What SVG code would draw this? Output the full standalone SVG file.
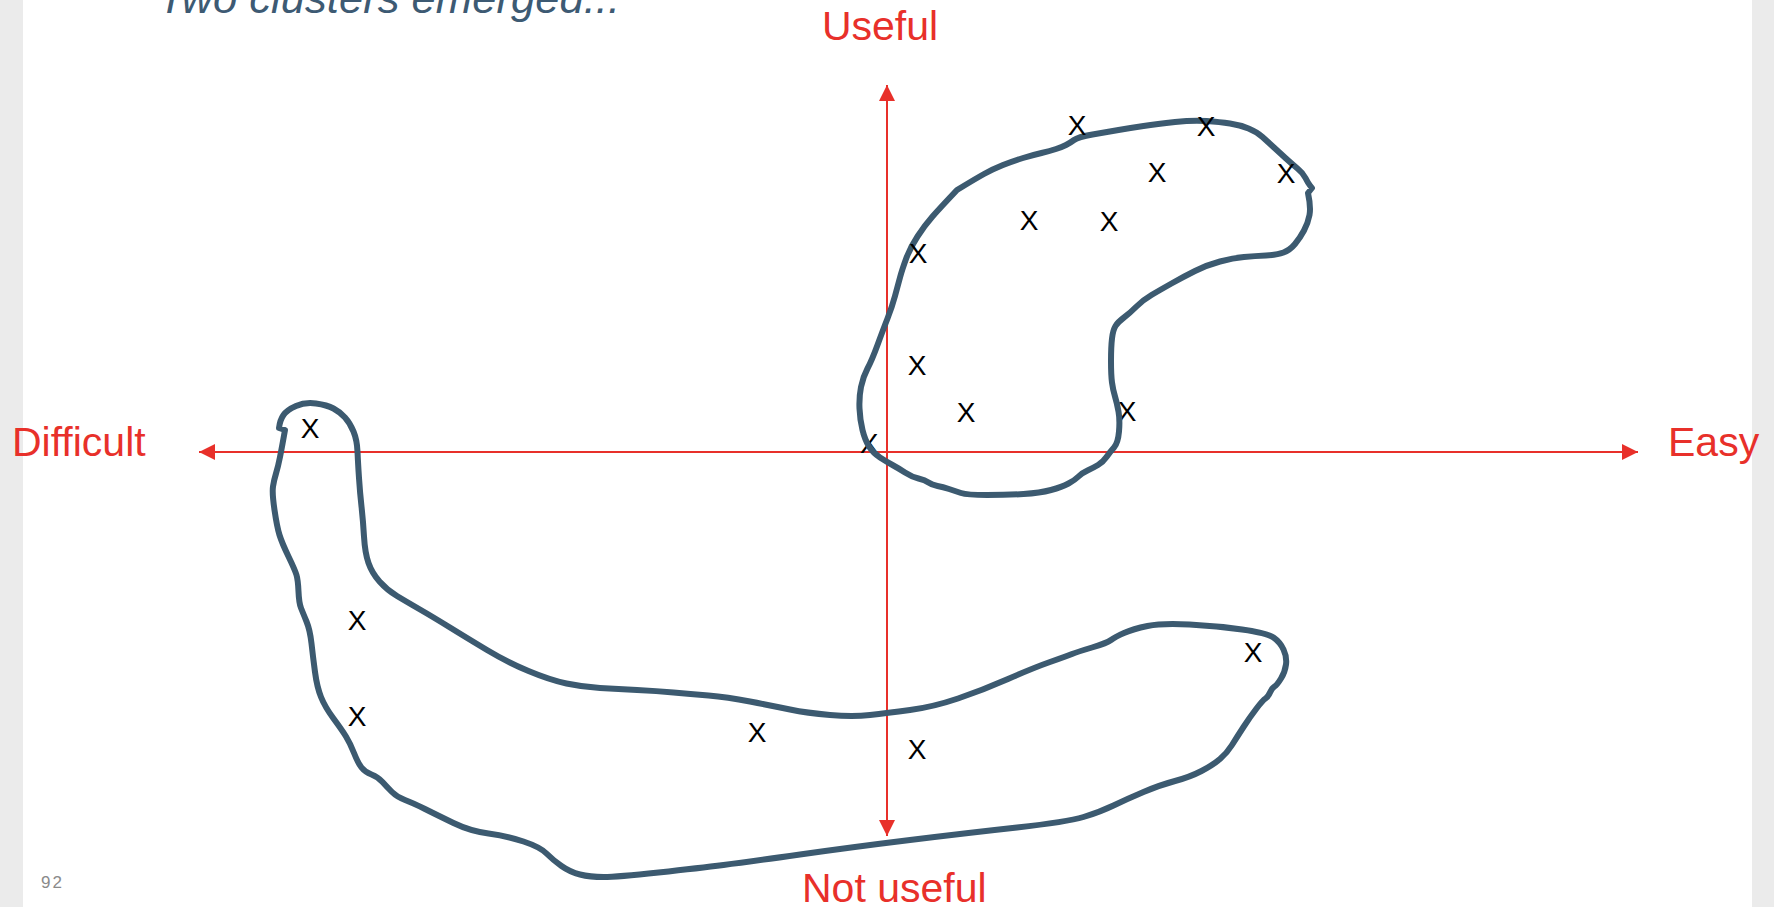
<svg xmlns="http://www.w3.org/2000/svg" width="1774" height="907" viewBox="0 0 1774 907">
<style>
.axis{stroke:#e8302a;stroke-width:2;fill:none}
.lbl{font-family:"Liberation Sans",Arial,sans-serif;font-size:41px;fill:#e8302a}
.blob{fill:none;stroke:#3c5a70;stroke-width:6;stroke-linejoin:round;stroke-linecap:round}
.x{font-family:"Liberation Sans",Arial,sans-serif;font-size:28px;fill:#000;text-anchor:middle}
</style>
<defs>
<marker id="ah" viewBox="0 0 16 16" refX="16" refY="8" markerWidth="16" markerHeight="16" markerUnits="userSpaceOnUse" orient="auto-start-reverse">
<path d="M0,0 L16,8 L0,16 Z" fill="#e8302a"/>
</marker>
</defs>
<rect x="0" y="0" width="1774" height="907" fill="#ebebeb"/>
<rect x="23" y="0" width="1729" height="907" fill="#ffffff"/>
<text x="158" y="13" font-family="Liberation Sans, Arial, sans-serif" font-style="italic" font-size="42" fill="#3d5a73" textLength="462" lengthAdjust="spacingAndGlyphs">Two clusters emerged...</text>
<text x="41" y="888" font-family="Liberation Sans, Arial, sans-serif" font-size="17" fill="#8a8a8a" letter-spacing="2">92</text>
<g id="connectors">
<line class="axis" x1="199" y1="452" x2="1638" y2="452" marker-start="url(#ah)" marker-end="url(#ah)"/>
<line class="axis" x1="887" y1="836" x2="887" y2="85" marker-start="url(#ah)" marker-end="url(#ah)"/>
</g>
<g id="labels">
<text class="lbl" x="880" y="40" text-anchor="middle">Useful</text>
<text class="lbl" x="12" y="456">Difficult</text>
<text class="lbl" x="1668" y="456">Easy</text>
<text class="lbl" x="802" y="902">Not useful</text>
</g>
<g id="hidden-marks">
<text class="x" x="869" y="453">X</text>
<text class="x" x="1127" y="421">X</text>
</g>
<g id="cluster-useful-easy">
<path class="blob" d="M957,190 Q975,179 984,174 Q993,169 1003,165 Q1013,161 1023,158 Q1033,155 1041.5,153 Q1050,151 1056,149 Q1062,147 1066,145 Q1070,143 1074,140 Q1078,137 1092.5,134.5 Q1107,132 1118.5,130 Q1130,128 1143.5,126 Q1157,124 1175,122 Q1193,120 1206.5,121 Q1220,122 1230,123.5 Q1240,125 1248.5,128.5 Q1257,132 1262.5,137 Q1268,142 1274,147.5 Q1280,153 1286,158.5 Q1292,164 1297.5,168.5 Q1303,173 1305.5,178 Q1308,183 1310,185.5 L1312,188 L1308,193 Q1311,207 1309.5,215 Q1308,223 1304,230.5 Q1300,238 1295,244 Q1290,250 1283.5,252.5 Q1277,255 1266,255.5 Q1255,256 1244,257 Q1233,258 1220,261.5 Q1207,265 1195,271 Q1183,277 1171.5,283.5 Q1160,290 1151.5,295 Q1143,300 1136.5,306.5 Q1130,313 1124,317.5 Q1118,322 1115.5,326 Q1113,330 1112,338.5 Q1111,347 1111,361 Q1111,375 1112,382.5 Q1113,390 1115,396.5 Q1117,403 1118.5,411.5 Q1120,420 1119,431.5 Q1118,443 1114,447.5 Q1110,452 1106.5,457 Q1103,462 1098,465 Q1093,468 1087.5,470.5 Q1082,473 1078.5,476.5 Q1075,480 1068.5,483.5 Q1062,487 1051,490 Q1040,493 1023.5,494 Q1007,495 987,495 Q967,495 961,493 Q955,491 949,489 Q943,487 937.5,486 Q932,485 928.5,482.5 Q925,480 918.5,478.5 Q912,477 905,472.5 Q898,468 892.5,465 Q887,462 880,457.5 Q873,453 869,446.5 Q865,440 862.5,430 Q860,420 859.5,408.5 Q859,397 861,387 Q863,377 867.5,368.5 Q872,360 877.5,345 Q883,330 887.5,318.5 Q892,307 895,296 Q898,285 900,277.5 Q902,270 906,259 Q910,248 917.5,236.5 Q925,225 932.5,216.5 Q940,208 957,190 Z"/>
</g>
<g id="cluster-not-useful">
<path class="blob" d="M285,430 L279,428 Q280,420 283.5,415 Q287,410 296,406 Q305,402 316,403.5 Q327,405 333.5,408.5 Q340,412 345,417.5 Q350,423 353.5,431.5 Q357,440 357.5,451.5 Q358,463 359,478 Q360,493 361.5,506.5 Q363,520 364,536.5 Q365,553 368.5,563 Q372,573 379.5,581.5 Q387,590 397,596 Q407,602 420,609.5 Q433,617 450,627.5 Q467,638 487,650 Q507,662 528.5,671 Q550,680 566.5,683.5 Q583,687 600,688 Q617,689 637,690 Q657,691 673.5,692.5 Q690,694 708.5,695.5 Q727,697 750,701.5 Q773,706 790,709.5 Q807,713 830,715 Q853,717 870,715 Q887,713 910,710 Q933,707 958,698.5 Q983,690 1008,679 Q1033,668 1050,662 Q1067,656 1072,654 Q1077,652 1092,647.5 Q1107,643 1111,640 Q1115,637 1124,633 Q1133,629 1147.5,626 Q1162,623 1189.5,624.5 Q1217,626 1242,629.5 Q1267,633 1273.5,637.5 Q1280,642 1283.5,649.5 Q1287,657 1286,664.5 Q1285,672 1281,678.5 Q1277,685 1274.5,686.5 Q1272,688 1270,692.5 Q1268,697 1265.5,698.5 Q1263,700 1256.5,708.5 Q1250,717 1243.5,727 Q1237,737 1232,745 Q1227,753 1220,759 Q1213,765 1201.5,771 Q1190,777 1175,781 Q1160,785 1143.5,792 Q1127,799 1113.5,805.5 Q1100,812 1083.5,817 Q1067,822 1017,827.5 Q967,833 910,840 Q853,847 800,854.5 Q747,862 723.5,865 Q700,868 658.5,872.5 Q617,877 603.5,877 Q590,877 580,874.5 Q570,872 561.5,866 Q553,860 546.5,853.5 Q540,847 523.5,841.5 Q507,836 488.5,833.5 Q470,831 453.5,823 Q437,815 425,809 Q413,803 405,800 Q397,797 392,792 Q387,787 382.5,782 Q378,777 371.5,774.5 Q365,772 361.5,767.5 Q358,763 354,753 Q350,743 346,736.5 Q342,730 333.5,718.5 Q325,707 321,697 Q317,687 315,672 Q313,657 311.5,643.5 Q310,630 306.5,621.5 Q303,613 301,608 Q299,603 298.5,591.5 Q298,580 296.5,575 Q295,570 288.5,556.5 Q282,543 279.5,535 Q277,527 274.5,510 Q272,493 273,486.5 Q274,480 276,473.5 Q278,467 280,457 Q282,447 285,430 Z"/>
</g>
<g id="marks">
<text class="x" x="1077" y="135">X</text>
<text class="x" x="1206" y="136">X</text>
<text class="x" x="1157" y="182">X</text>
<text class="x" x="1286" y="183">X</text>
<text class="x" x="1029" y="230">X</text>
<text class="x" x="1109" y="231">X</text>
<text class="x" x="918" y="263">X</text>
<text class="x" x="917" y="375">X</text>
<text class="x" x="966" y="422">X</text>
<text class="x" x="310" y="438">X</text>
<text class="x" x="357" y="630">X</text>
<text class="x" x="357" y="726">X</text>
<text class="x" x="757" y="742">X</text>
<text class="x" x="917" y="759">X</text>
<text class="x" x="1253" y="662">X</text>
</g>
</svg>
